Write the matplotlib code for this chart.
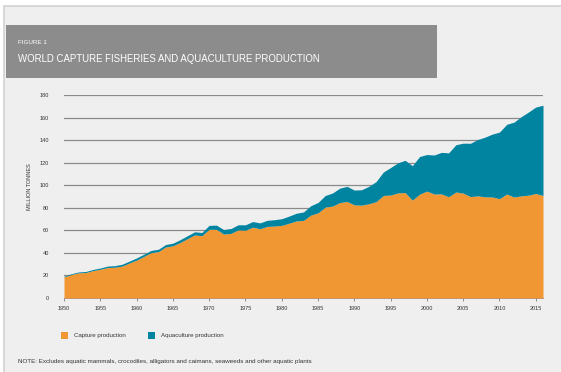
import numpy as np
import matplotlib
matplotlib.use("Agg")
import matplotlib.pyplot as plt
from matplotlib.patches import Rectangle

plt.rcParams["font.family"] = ["Liberation Sans Narrow", "Liberation Sans", "DejaVu Sans"]

# World production, million tonnes, 1950-2016
years = np.arange(1950, 2017)
capture = [
    18.7, 20.8, 22.3, 22.6, 24.3, 25.5, 27.0, 27.3, 28.3, 31.0,
    33.6, 36.9, 40.2, 41.1, 45.2, 46.3, 49.2, 52.6, 55.9, 55.2,
    60.9, 60.9, 56.7, 57.3, 60.4, 60.1, 62.8, 61.4, 63.5, 63.8,
    64.4, 66.3, 68.3, 68.8, 73.5, 75.5, 80.6, 81.5, 84.6, 85.6,
    82.6, 82.3, 83.6, 85.4, 90.9, 91.3, 93.2, 93.5, 86.8, 92.1,
    94.8, 92.2, 92.3, 89.8, 94.0, 93.0, 89.9, 90.6, 89.7, 89.6,
    88.1, 92.2, 89.5, 90.6, 91.2, 92.7, 90.9,
]
aquaculture = [
    0.6, 0.7, 0.8, 0.9, 1.0, 1.1, 1.3, 1.4, 1.6, 1.7,
    1.9, 1.9, 2.0, 2.1, 2.2, 2.3, 2.5, 2.6, 2.8, 2.9,
    3.5, 3.7, 4.0, 4.3, 4.5, 4.8, 5.0, 5.2, 5.4, 5.6,
    5.9, 6.3, 6.8, 7.5, 8.3, 9.2, 10.3, 11.6, 12.8, 13.4,
    13.1, 13.7, 15.4, 17.8, 20.8, 24.4, 26.6, 28.6, 30.5, 33.4,
    32.4, 34.6, 36.8, 38.9, 41.9, 44.3, 47.3, 49.9, 52.9, 55.7,
    59.0, 61.8, 66.4, 70.2, 73.7, 76.6, 80.0,
]
xticks = list(range(1950, 2016, 5))
yticks = list(range(0, 181, 20))

ORANGE = "#F09632"
TEAL = "#0084A0"
PANEL = "#EFEFEF"

fig = plt.figure(figsize=(5.61, 3.72), dpi=100)
fig.patch.set_facecolor("white")

# panel frame (runs off the right and bottom edges) and header banner
fig.patches.append(Rectangle((4 / 561, -0.05), 1.0, 1 - 6 / 372 + 0.05,
                             transform=fig.transFigure, facecolor=PANEL,
                             edgecolor="#D2D2D2", lw=1.2, zorder=0))
fig.patches.append(Rectangle((6 / 561, 1 - 78 / 372), 431 / 561, 53 / 372,
                             transform=fig.transFigure, facecolor="#8C8C8C",
                             edgecolor="none", zorder=1))
fig.text(18 / 561, 1 - 43 / 372, "FIGURE 1", color="white", fontsize=4.5,
         va="center", ha="left")
fig.text(18 / 561, 1 - 59 / 372, "WORLD CAPTURE FISHERIES AND AQUACULTURE PRODUCTION",
         color="white", fontsize=6.9, va="center", ha="left")

ax = fig.add_axes([64 / 561, 74 / 372, 479 / 561, 203 / 372])
ax.set_zorder(5)
ax.set_facecolor("none")

cap = np.array(capture)
total = cap + np.array(aquaculture)
ax.fill_between(years, 0, cap, color=ORANGE, lw=0, zorder=3)
ax.fill_between(years, cap, total, color=TEAL, lw=0, zorder=3)

ax.set_xlim(1950, 2016)
ax.set_ylim(0, 180)
for v in yticks[1:]:
    ax.axhline(v, color="#8A8A8A", lw=0.9, zorder=1)

ax.set_xticks(xticks)
ax.set_xticklabels([str(x) for x in xticks], fontsize=4)
ax.set_yticks(yticks)
ax.set_yticklabels([str(y) for y in yticks], fontsize=4)
ax.tick_params(axis="x", length=2, width=0.5, color="#666666", pad=3.5, labelcolor="#333333")
ax.tick_params(axis="y", length=0, pad=11, labelcolor="#333333")
for s in ["top", "right", "left"]:
    ax.spines[s].set_visible(False)
ax.spines["bottom"].set_color("#888888")
ax.spines["bottom"].set_linewidth(0.6)
ax.set_ylabel("MILLION TONNES", fontsize=4, color="#333333")
ax.yaxis.set_label_coords(-32 / 479, 0.55)

# legend row
fig.patches.append(Rectangle((61 / 561, 1 - 339 / 372), 7 / 561, 7 / 372,
                             transform=fig.transFigure, facecolor=ORANGE, edgecolor="none"))
fig.text(74 / 561, 1 - 335.5 / 372, "Capture production", fontsize=4.4,
         color="#333333", va="center")
fig.patches.append(Rectangle((148 / 561, 1 - 339 / 372), 7 / 561, 7 / 372,
                             transform=fig.transFigure, facecolor=TEAL, edgecolor="none"))
fig.text(161 / 561, 1 - 335.5 / 372, "Aquaculture production", fontsize=4.4,
         color="#333333", va="center")

fig.text(18 / 561, 1 - 362 / 372,
         "NOTE: Excludes aquatic mammals, crocodiles, alligators and caimans, seaweeds and other aquatic plants",
         fontsize=4.5, color="#333333", va="center")

fig.savefig("out.png", dpi=100)
